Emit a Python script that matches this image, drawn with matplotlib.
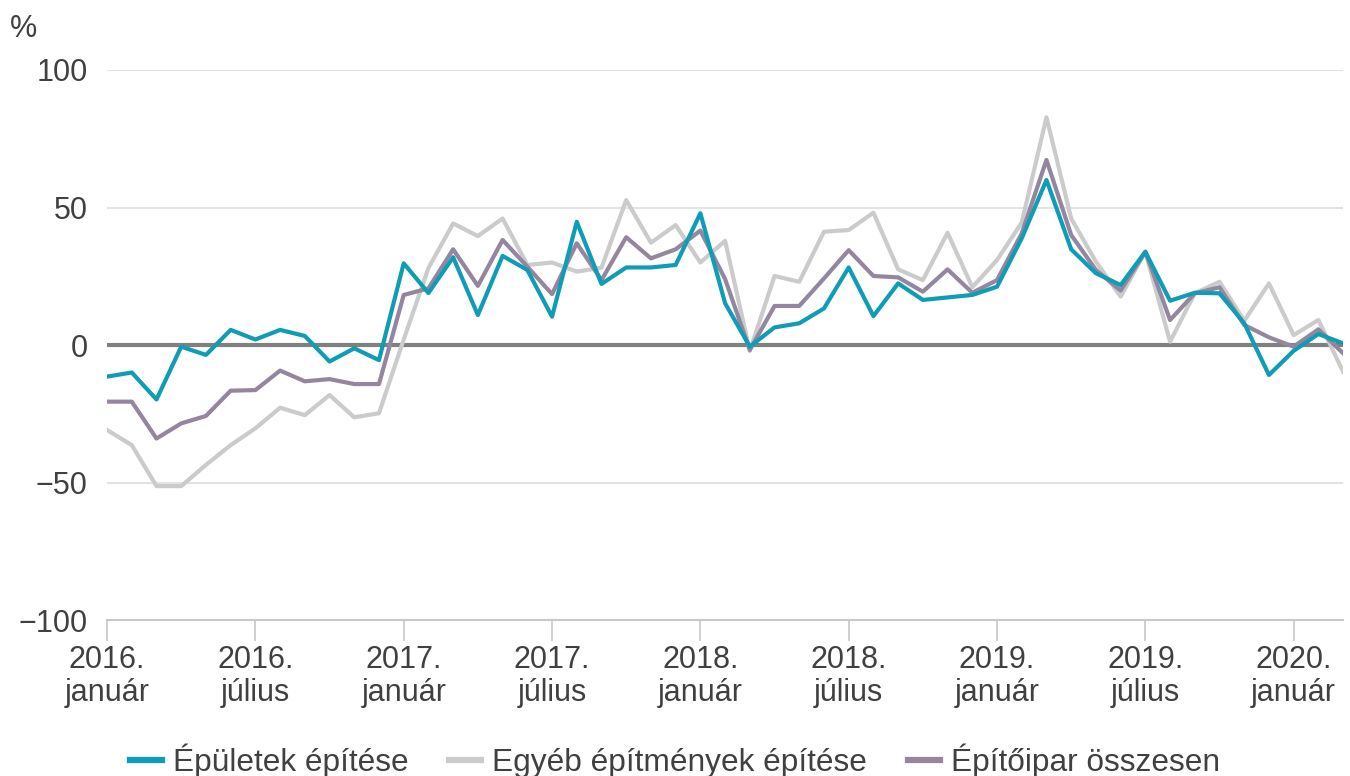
import numpy as np
import matplotlib.pyplot as plt

plt.rcParams['font.family'] = ['Liberation Sans', 'DejaVu Sans']

# havi adatok 2016. január - 2020. március
epuletek = [-11.5, -10, -19.8, -0.6, -3.6, 5.5, 2, 5.5, 3.3, -6, -1.2, -5.5,
            29.7, 18.9, 31.9, 10.9, 32.4, 27.3, 10.3, 44.8, 22.2, 28.2, 28.2, 29.1,
            47.9, 15.2, -0.6, 6.4, 7.9, 13.3, 28.2, 10.5, 22.4, 16.4, 17.3, 18.2,
            21.2, 38.8, 60, 34.8, 26.1, 21.8, 33.9, 16.1, 19, 18.8, 7.9, -10.9,
            -2.1, 4, 0.6]
egyeb = [-30.9, -36.4, -51.3, -51.3, -43.6, -36.4, -30.3, -22.8, -25.5, -18.2, -26.3, -24.8,
         2, 28, 44.2, 39.6, 46, 29.1, 30, 26.7, 28.1, 52.7, 37.2, 43.6,
         30, 37.9, -2.2, 25.1, 23, 41.2, 41.8, 48.1, 27.5, 23.6, 40.8, 21,
         30.9, 44.5, 82.8, 46, 30.3, 17.6, 33.9, 1.2, 18.8, 23, 8.8, 22.4,
         3.6, 9.1, -9.7]
osszesen = [-20.6, -20.6, -34, -28.5, -25.8, -16.6, -16.4, -9.3, -13.2, -12.4, -14.2, -14.2,
            18.2, 20.6, 34.8, 21.5, 38.2, 28.5, 18.5, 37, 23.6, 39.2, 31.5, 34.8,
            41.6, 24, -1.8, 14.2, 14.2, 24.2, 34.5, 25.1, 24.6, 19.4, 27.5, 19,
            23.6, 40.6, 67.3, 40, 27.3, 19.8, 33.9, 9.1, 18.8, 21, 7.3, 2.8,
            -0.6, 5.7, -3]
tick_pos = [0, 6, 12, 18, 24, 30, 36, 42, 48]
tick_labels = ['2016.\njanuár', '2016.\njúlius', '2017.\njanuár', '2017.\njúlius',
               '2018.\njanuár', '2018.\njúlius', '2019.\njanuár', '2019.\njúlius',
               '2020.\njanuár']

txt = '#404040'
fig = plt.figure(figsize=(13.5, 7.76), dpi=100, facecolor='w')
ax = fig.add_axes([0.0793, 0.201, 0.9156, 0.7088])
x = np.arange(len(epuletek))

for v in [100, 50, -50]:
    ax.axhline(v, color='#e3e3e3', lw=1.5, zorder=0)
ax.axhline(0, color='#808080', lw=3, zorder=1)

ax.plot(x, egyeb, color='#cbcbcb', lw=3, label='Egyéb építmények építése', zorder=2)
ax.plot(x, osszesen, color='#94869f', lw=3, label='Építőipar összesen', zorder=3)
ax.plot(x, epuletek, color='#0e9db4', lw=3, label='Épületek építése', zorder=4)

ax.set_xlim(0, 50)
ax.set_ylim(-100, 100)
ax.set_yticks([-100, -50, 0, 50, 100])
ax.set_yticklabels(['\u2212100', '\u221250', '0', '50', '100'])
ax.set_xticks(tick_pos)
ax.set_xticklabels(tick_labels, linespacing=1.15)
ax.tick_params(axis='y', length=0, pad=14, labelsize=22, labelcolor=txt)
ax.tick_params(axis='x', length=15, width=1.2, color='#c8c8c8', pad=3,
               labelsize=22, labelcolor=txt)
for s in ['top', 'right', 'left']:
    ax.spines[s].set_visible(False)
ax.spines['bottom'].set_color('#c8c8c8')
ax.spines['bottom'].set_linewidth(1.5)

fig.text(0.007, 0.963, '%', fontsize=22, color=txt, va='center')

h, l = ax.get_legend_handles_labels()
order = [2, 0, 1]
leg = fig.legend([h[i] for i in order], [l[i] for i in order], loc='center',
                 bbox_to_anchor=(0.5, 0.02), ncol=3, frameon=False, fontsize=22.8,
                 handlelength=1.0, handletextpad=0.35, columnspacing=1.3)
for t in leg.get_texts():
    t.set_color(txt)
for ln in leg.get_lines():
    ln.set_linewidth(4.5)

plt.savefig('out.png', dpi=100)
